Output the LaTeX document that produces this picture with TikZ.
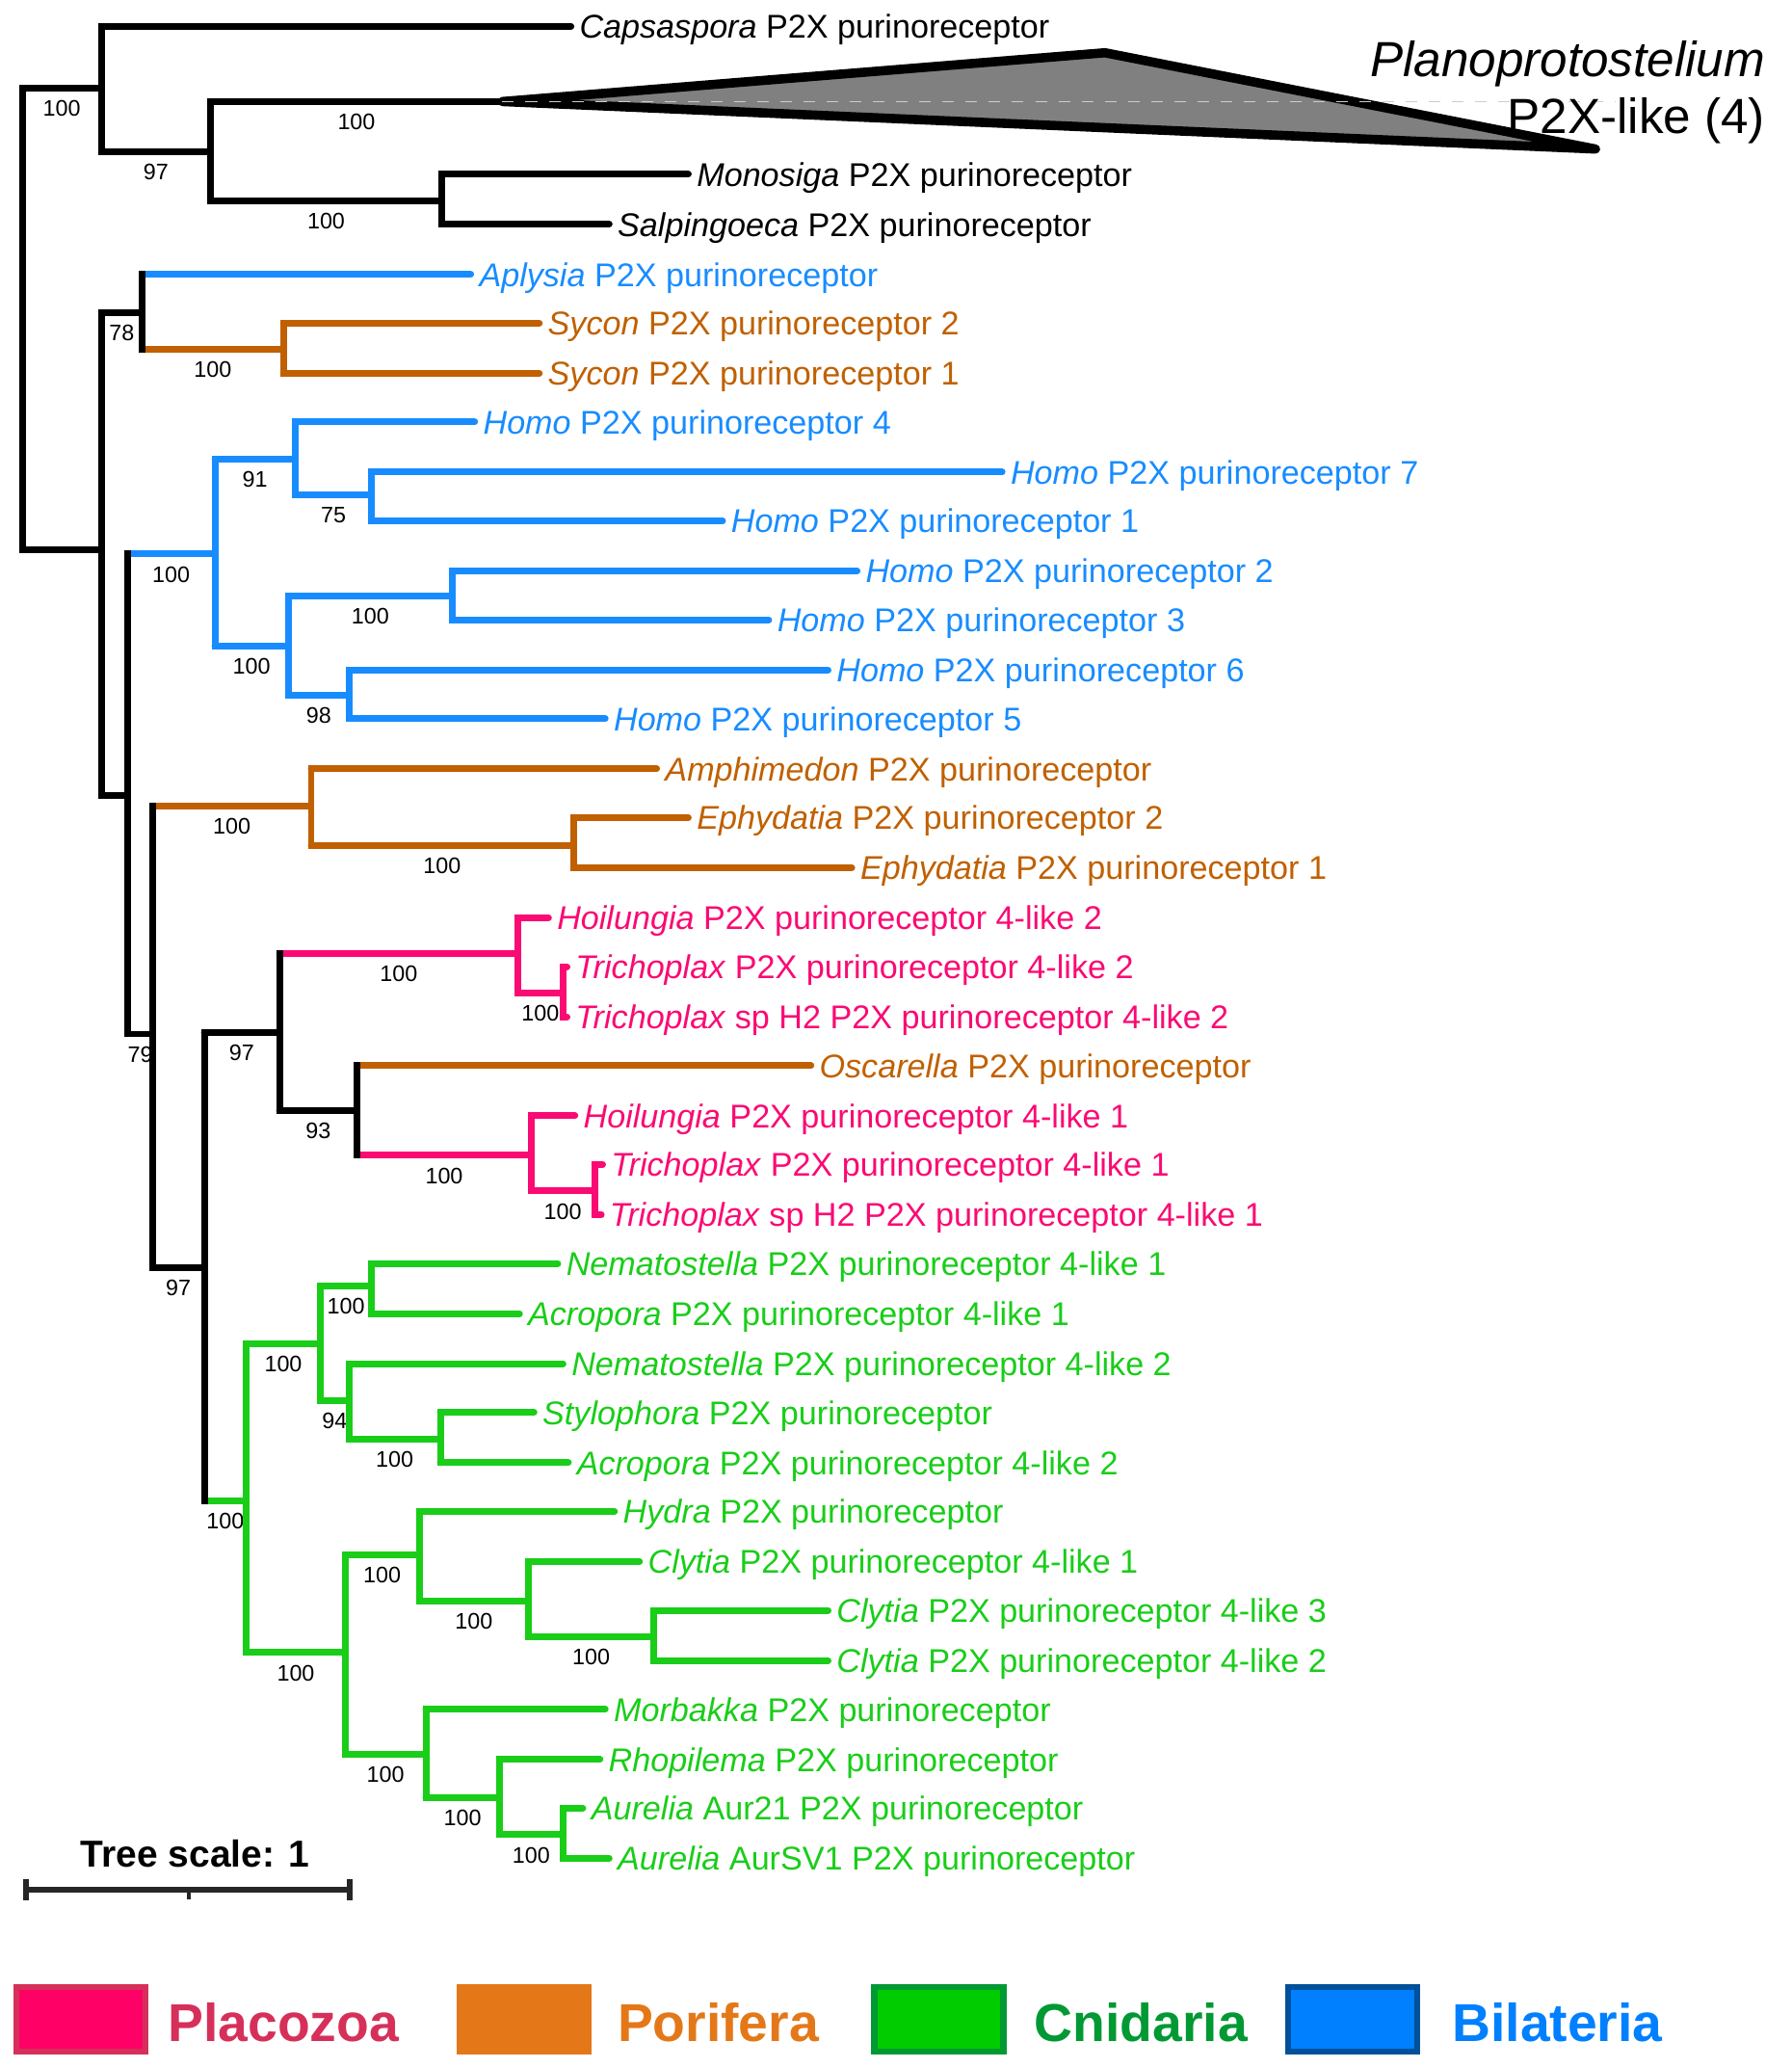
\documentclass[tikz,border=0pt]{standalone}
\usepackage{fontspec}
\setmainfont{Liberation Sans}
\usetikzlibrary{calc}

\definecolor{bilat}{RGB}{24,140,255}
\definecolor{porif}{RGB}{192,96,0}
\definecolor{placo}{RGB}{250,10,115}
\definecolor{cnid}{RGB}{25,205,25}
\definecolor{placofill}{RGB}{255,0,102}
\definecolor{placoline}{RGB}{214,48,90}
\definecolor{poriffill}{RGB}{228,120,24}
\definecolor{cnidfill}{RGB}{0,204,0}
\definecolor{cnidline}{RGB}{0,153,51}
\definecolor{bilatfill}{RGB}{0,128,255}
\definecolor{bilatline}{RGB}{0,80,154}

\begin{document}
\begin{tikzpicture}[
        x=0.02cm, y=-0.02cm,
        br/.style={line width=2.9pt, line cap=round},
        vbr/.style={line width=2.9pt, line cap=rect},
        jn/.style={inner sep=0pt, minimum size=0pt},
        leaf/.style={anchor=west, inner xsep=3.5pt, inner ysep=0pt, text depth=0pt, font=\fontsize{14.2}{17}\selectfont},
        boot/.style={inner sep=0pt, yshift=-0.31cm, font=\fontsize{9.7}{12}\selectfont},
        keybox/.style={line width=2.6pt, minimum width=1.96cm, minimum height=0.98cm, inner sep=0pt, outer sep=0pt},
        keytext/.style={anchor=west, inner sep=0pt, text depth=0pt, font=\bfseries\fontsize{23}{27}\selectfont}
    ]
        \useasboundingbox (0,0) rectangle (1359,1568);

        % Nút trong của cây
        \foreach \n/\x/\y in {root/17/242, A/77/67, B/160/115, C/335/152, tri/381/77,
            D/77/417, E/108/237, F/215/265, G/97/603, H/163/420, I/224/348, L/282/375,
            K/219/490, M/343/452, N/265/527, J/116/784, O/236/611, Q/435/641, P/155/961,
            S/212/783, T/393/723, U/427/753, V/271/842, W/403/876, X/451/903,
            R/187/1138, Y/243/1019, Z1/282/975, Z2/265/1062, Z3/334/1091,
            AA/262/1253, AB/318/1179, AC/401/1214, AD/496/1241, AE/323/1330, AF/379/1363, AG/427/1391}
            \node[jn] (\n) at (\x,\y) {};

        % Các lá
        \foreach \n/\p/\x/\y/\col/\gen/\rest in {
            caps/A/433/20/black/Capsaspora/P2X purinoreceptor,
            mono/C/522/132/black/Monosiga/P2X purinoreceptor,
            salp/C/462/170/black/Salpingoeca/P2X purinoreceptor,
            aply/E/357/208/bilat/Aplysia/P2X purinoreceptor,
            syc2/F/409/245/porif/Sycon/P2X purinoreceptor 2,
            syc1/F/409/283/porif/Sycon/P2X purinoreceptor 1,
            hom4/I/360/320/bilat/Homo/P2X purinoreceptor 4,
            hom7/L/760/358/bilat/Homo/P2X purinoreceptor 7,
            hom1/L/548/395/bilat/Homo/P2X purinoreceptor 1,
            hom2/M/650/433/bilat/Homo/P2X purinoreceptor 2,
            hom3/M/583/470/bilat/Homo/P2X purinoreceptor 3,
            hom6/N/628/508/bilat/Homo/P2X purinoreceptor 6,
            hom5/N/459/545/bilat/Homo/P2X purinoreceptor 5,
            amph/O/498/583/porif/Amphimedon/P2X purinoreceptor,
            eph2/Q/522/620/porif/Ephydatia/P2X purinoreceptor 2,
            eph1/Q/646/658/porif/Ephydatia/P2X purinoreceptor 1,
            hoi2/T/416/696/placo/Hoilungia/P2X purinoreceptor 4-like 2,
            tri2/U/430/733/placo/Trichoplax/P2X purinoreceptor 4-like 2,
            trh2/U/430/771/placo/Trichoplax/sp H2 P2X purinoreceptor 4-like 2,
            osca/V/615/808/porif/Oscarella/P2X purinoreceptor,
            hoi1/W/436/846/placo/Hoilungia/P2X purinoreceptor 4-like 1,
            tri1/X/457/883/placo/Trichoplax/P2X purinoreceptor 4-like 1,
            trh1/X/456/921/placo/Trichoplax/sp H2 P2X purinoreceptor 4-like 1,
            nem1/Z1/423/958/cnid/Nematostella/P2X purinoreceptor 4-like 1,
            acr1/Z1/394/996/cnid/Acropora/P2X purinoreceptor 4-like 1,
            nem2/Z2/427/1034/cnid/Nematostella/P2X purinoreceptor 4-like 2,
            styl/Z3/405/1071/cnid/Stylophora/P2X purinoreceptor,
            acr2/Z3/431/1109/cnid/Acropora/P2X purinoreceptor 4-like 2,
            hydr/AB/466/1146/cnid/Hydra/P2X purinoreceptor,
            cly1/AC/485/1184/cnid/Clytia/P2X purinoreceptor 4-like 1,
            cly3/AD/628/1221/cnid/Clytia/P2X purinoreceptor 4-like 3,
            cly2/AD/628/1259/cnid/Clytia/P2X purinoreceptor 4-like 2,
            morb/AE/459/1296/cnid/Morbakka/P2X purinoreceptor,
            rhop/AF/455/1334/cnid/Rhopilema/P2X purinoreceptor,
            aur1/AG/442/1371/cnid/Aurelia/Aur21 P2X purinoreceptor,
            aur2/AG/462/1409/cnid/Aurelia/AurSV1 P2X purinoreceptor}
        {
            \node[leaf, text=\col] (\n) at (\x,\y) {\textit{\gen} \rest};
            \draw[br, \col] (\p |- \n) -- (\n.west);
        }

        % Nhánh trong với giá trị bootstrap
        \foreach \p/\ch/\col/\s in {root/A/black/100, A/B/black/97, B/tri/black/100, B/C/black/100,
            D/E/black/78, E/F/porif/100, G/H/bilat/100, H/I/bilat/91, I/L/bilat/75,
            H/K/bilat/100, K/M/bilat/100, K/N/bilat/98, G/J/black/79, J/O/porif/100,
            O/Q/porif/100, J/P/black/97, P/S/black/97, S/T/placo/100, T/U/placo/100,
            S/V/black/93, V/W/placo/100, W/X/placo/100, P/R/cnid/100, R/Y/cnid/100,
            Y/Z1/cnid/100, Y/Z2/cnid/94, Z2/Z3/cnid/100, R/AA/cnid/100, AA/AB/cnid/100,
            AB/AC/cnid/100, AC/AD/cnid/100, AA/AE/cnid/100, AE/AF/cnid/100, AF/AG/cnid/100}
        {
            \draw[br, \col] (\p |- \ch) -- (\ch);
            \path (\p |- \ch) -- (\ch) node[midway, boot] {\s};
        }
        \draw[br] (root |- D) -- (D);
        \draw[br] (D |- G) -- (G);

        % Nhánh thu gọn Planoprotostelium
        \coordinate (tritop) at (838,40);
        \coordinate (triend) at (1210,113);
        \coordinate (dashend) at (1225,77);
        \filldraw[fill=black!50, draw=black, line width=4pt, line join=round] (tri.center) -- (tritop) -- (triend) -- cycle;
        \draw[black!20, line width=0.6pt, dash pattern=on 5pt off 5pt] (tri.center) -- (dashend);
        \node[anchor=east, align=right, inner sep=0pt, font=\fontsize{21.3}{24.5}\selectfont] (plano) at (1339,70)
            {\textit{Planoprotostelium}\\P2X-like (4)};

        % Các đoạn dọc
        \foreach \n/\hi/\lo/\col in {root/A/D/black, A/caps/B/black, B/tri/C/black, C/mono/salp/black,
            D/E/G/black, E/aply/F/black, F/syc2/syc1/porif, G/H/J/black, H/I/K/bilat,
            I/hom4/L/bilat, L/hom7/hom1/bilat, K/M/N/bilat, M/hom2/hom3/bilat, N/hom6/hom5/bilat,
            J/O/P/black, O/amph/Q/porif, Q/eph2/eph1/porif, P/S/R/black, S/T/V/black,
            T/hoi2/U/placo, U/tri2/trh2/placo, V/osca/W/black, W/hoi1/X/placo, X/tri1/trh1/placo,
            R/Y/AA/cnid, Y/Z1/Z2/cnid, Z1/nem1/acr1/cnid, Z2/nem2/Z3/cnid, Z3/styl/acr2/cnid,
            AA/AB/AE/cnid, AB/hydr/AC/cnid, AC/cly1/AD/cnid, AD/cly3/cly2/cnid,
            AE/morb/AF/cnid, AF/rhop/AG/cnid, AG/aur1/aur2/cnid}
            \draw[vbr, \col] (\n |- \hi) -- (\n |- \lo);

        % Thước tỉ lệ
        \node[inner sep=0pt, text depth=0pt, font=\bfseries\fontsize{16.2}{19}\selectfont] (scaletxt) at (148,1405) {Tree scale: 1};
        \coordinate (sbl) at (20,1433);
        \coordinate (sbr) at (265,1433);
        \coordinate (sbm) at (143,1433);
        \draw[line width=2.6pt, black!85] (sbl) -- (sbr);
        \draw[line width=2.4pt, black!85] ($(sbl)+(0,-8)$) -- ($(sbl)+(0,8)$);
        \draw[line width=2.4pt, black!85] ($(sbr)+(0,-8)$) -- ($(sbr)+(0,8)$);
        \draw[line width=1.6pt, black!85] (sbm) -- ($(sbm)+(0,7)$);

        % Chú thích
        \node[keybox, draw=placoline, fill=placofill] (keyplaco) at (61.5,1531) {};
        \node[keytext, text=placoline] (txtplaco) at (127,1533) {Placozoa};
        \node[keybox, draw=poriffill, fill=poriffill] (keyporif) at (397.5,1531) {};
        \node[keytext, text=poriffill] (txtporif) at (468,1533) {Porifera};
        \node[keybox, draw=cnidline, fill=cnidfill] (keycnid) at (712,1531) {};
        \node[keytext, text=cnidline] (txtcnid) at (784,1533) {Cnidaria};
        \node[keybox, draw=bilatline, fill=bilatfill] (keybilat) at (1026,1531) {};
        \node[keytext, text=bilatfill] (txtbilat) at (1101,1533) {Bilateria};
    \end{tikzpicture}
\end{document}
